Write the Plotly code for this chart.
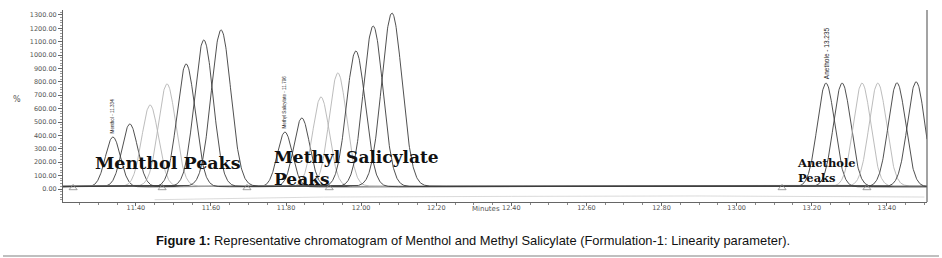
import numpy as np
import plotly.graph_objects as go

# ---- data ----
menthol_rt = [11.339, 11.384, 11.438, 11.483, 11.534, 11.581, 11.627]
menthol_h = [388, 485, 627, 784, 933, 1112, 1187]
menthol_w = [0.020, 0.021, 0.022, 0.023, 0.024, 0.025, 0.026]

ms_rt = [11.797, 11.842, 11.893, 11.938, 11.986, 12.032, 12.082]
ms_h = [425, 530, 687, 866, 1030, 1216, 1313]
ms_w = [0.020, 0.021, 0.022, 0.023, 0.025, 0.026, 0.027]

anethole_rt = [13.238, 13.281, 13.334, 13.376, 13.427, 13.478]
anethole_h = [790, 790, 790, 790, 792, 800]
anethole_w = [0.023, 0.023, 0.023, 0.023, 0.023, 0.023]

baselines = [16, 18, 20, 22, 17, 19, 21]
light_runs = [2, 3]  # injections drawn in light grey

marker_rt = [11.233, 11.470, 11.696, 11.915, 13.121, 13.347]
marker_y = [8, 8, 8, 8, 8, 8]

x_ticks = [11.40, 11.60, 11.80, 12.00, 12.20, 12.40, 12.60, 12.80, 13.00, 13.20, 13.40]
y_ticks = [0, 100, 200, 300, 400, 500, 600, 700, 800, 900, 1000, 1100, 1200, 1300]

peak_labels = ["Menthol - 11.334", "Methyl Salicylate - 11.796", "Anethole - 13.235"]
caption = "<b>Figure 1:</b> Representative chromatogram of Menthol and Methyl Salicylate (Formulation-1: Linearity parameter)."

X0, X1 = 11.206, 13.507
Y0, Y1 = -97, 1336

fig = go.Figure()
t = np.linspace(X0, X1, 2400)
for i in range(7):
    base = baselines[i]
    y = np.full_like(t, float(base))
    y += (menthol_h[i] - base) * np.exp(-0.5 * ((t - menthol_rt[i]) / menthol_w[i]) ** 2)
    y += (ms_h[i] - base) * np.exp(-0.5 * ((t - ms_rt[i]) / ms_w[i]) ** 2)
    if i < len(anethole_rt):
        y += (anethole_h[i] - base) * np.exp(-0.5 * ((t - anethole_rt[i]) / anethole_w[i]) ** 2)
    col = "#b4b4b4" if i in light_runs else "#3c3c3c"
    fig.add_trace(go.Scatter(x=t, y=y, mode="lines", line=dict(color=col, width=0.9),
                             hoverinfo="skip", showlegend=False))

# faint lower trace
fig.add_trace(go.Scatter(x=[11.45, 11.9, 12.4, 12.9, 13.5], y=[-80, -60, -55, -52, -60], mode="lines",
                         line=dict(color="#d0d0d0", width=0.8), showlegend=False, hoverinfo="skip"))

fig.add_trace(go.Scatter(x=marker_rt, y=marker_y, mode="markers",
                         marker=dict(symbol="triangle-up-open", size=7, color="#888", line=dict(width=0.8)),
                         showlegend=False, hoverinfo="skip"))

# peak labels (vertical)
for rt, h, txt, fs in [(menthol_rt[0], menthol_h[0], peak_labels[0], 4.6),
                       (ms_rt[0], ms_h[0], peak_labels[1], 4.6),
                       (anethole_rt[0], anethole_h[0], peak_labels[2], 6.5)]:
    fig.add_annotation(x=rt, y=h + 15, text=txt, textangle=-90, showarrow=False,
                       xanchor="center", yanchor="bottom",
                       font=dict(family="Liberation Sans Narrow, Arial Narrow, sans-serif", size=fs, color="#222"))

serif = "DejaVu Serif, serif"
def pann(px, py, text, size, anchor="left", family=serif, color="#111", weight="normal"):
    fig.add_annotation(x=(px - 63) / 864, y=(202 - py) / 192, xref="paper", yref="paper",
                       text=text, showarrow=False, xanchor=anchor, yanchor="middle", align="left",
                       font=dict(family=family, size=size, color=color, weight=weight))

pann(93, 163, "Menthol Peaks", 17.5, weight="bold")
pann(272, 168, "Methyl Salicylate<br>Peaks", 17, weight="bold")
pann(795, 170, "Anethole<br>Peaks", 11.5, weight="bold")
pann(486, 209, "Minutes", 7, anchor="center", family="DejaVu Sans, sans-serif", color="#555")
pann(17, 99, "%", 8, anchor="center", family="DejaVu Sans, sans-serif", color="#555")
pann(473, 240, caption, 12.9, anchor="center", family="Liberation Sans, Arial, sans-serif", color="#111")

fig.add_shape(type="line", xref="paper", yref="paper", x0=(3 - 63) / 864, x1=(939 - 63) / 864,
              y0=(202 - 256) / 192, y1=(202 - 256) / 192, line=dict(color="#aaa", width=1.5))
fig.add_shape(type="line", xref="paper", yref="paper", x0=1, x1=1, y0=0, y1=1,
              line=dict(color="#666", width=1.2))

fig.update_layout(
    width=942, height=258, margin=dict(l=63, r=15, t=10, b=56),
    paper_bgcolor="white", plot_bgcolor="white",
    xaxis=dict(range=[X0, X1], tickvals=x_ticks, ticktext=[f"{v:.2f}" for v in x_ticks],
               showgrid=False, zeroline=False, showline=True, linecolor="#666", linewidth=1,
               ticks="outside", ticklen=3, tickcolor="#666", ticklabelstandoff=-4,
               minor=dict(dtick=0.05, tick0=11.4, ticks="outside", ticklen=2, tickcolor="#888"),
               tickfont=dict(family="DejaVu Sans, sans-serif", size=6.5, color="#555")),
    yaxis=dict(range=[Y0, Y1], tickvals=y_ticks, ticktext=[f"{v:.2f}" for v in y_ticks],
               showgrid=False, zeroline=False, showline=True, linecolor="#666", linewidth=1,
               ticks="outside", ticklen=4, tickcolor="#666",
               minor=dict(dtick=20, tick0=0, ticks="outside", ticklen=2, tickcolor="#999"),
               tickfont=dict(family="DejaVu Sans, sans-serif", size=6.5, color="#555")),
)
fig.write_html("out.html", config={"displayModeBar": False},
               post_script="document.body.style.margin='0';document.body.style.overflow='hidden';")
